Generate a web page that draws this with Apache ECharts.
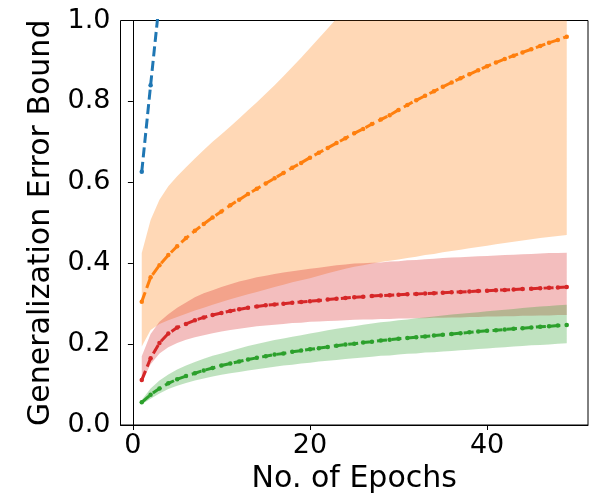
<!DOCTYPE html>
<html>
<head>
<meta charset="utf-8">
<script src="https://cdn.jsdelivr.net/npm/echarts@6/dist/echarts.min.js"></script>
<style>
  html, body { margin: 0; padding: 0; background: #fff; }
  #chart { width: 600px; height: 500px; }
</style>
</head>
<body>
<div id="chart"></div>
<script>
// epochs on the x axis
var epochs = [1, 2, 3, 4, 5, 6, 7, 8, 9, 10, 11, 12, 13, 14, 15, 16, 17, 18, 19, 20,
  21, 22, 23, 24, 25, 26, 27, 28, 29, 30, 31, 32, 33, 34, 35, 36, 37, 38, 39, 40,
  41, 42, 43, 44, 45, 46, 47, 48, 49];

var xTicks = [0, 20, 40];

// blue curve leaves the plot after a couple of epochs
var blueLine = [0.626, 0.840, 1.050, 1.250, 1.440, 1.620];

var orangeLine = [0.305, 0.365, 0.395, 0.420, 0.442, 0.462, 0.480, 0.497, 0.513, 0.528,
  0.543, 0.557, 0.571, 0.584, 0.597, 0.610, 0.623, 0.636, 0.648, 0.661,
  0.673, 0.685, 0.697, 0.709, 0.721, 0.732, 0.744, 0.755, 0.766, 0.779,
  0.791, 0.803, 0.814, 0.825, 0.836, 0.847, 0.857, 0.867, 0.877, 0.887,
  0.896, 0.905, 0.913, 0.921, 0.929, 0.937, 0.945, 0.952, 0.960];
var orangeUpper = [0.425, 0.507, 0.557, 0.590, 0.615, 0.637, 0.659, 0.680, 0.700, 0.719,
  0.738, 0.758, 0.778, 0.798, 0.819, 0.840, 0.862, 0.885, 0.908, 0.932,
  0.956, 0.980, 1.005, 1.030, 1.055, 1.080, 1.105, 1.130, 1.155, 1.180,
  1.205, 1.230, 1.255, 1.280, 1.305, 1.330, 1.355, 1.380, 1.405, 1.430,
  1.455, 1.480, 1.505, 1.530, 1.555, 1.580, 1.605, 1.630, 1.655];
var orangeLower = [0.194, 0.235, 0.250, 0.259, 0.267, 0.275, 0.283, 0.290, 0.297, 0.304,
  0.311, 0.317, 0.323, 0.329, 0.335, 0.341, 0.347, 0.353, 0.358, 0.363,
  0.369, 0.375, 0.381, 0.386, 0.391, 0.395, 0.399, 0.403, 0.406, 0.409,
  0.413, 0.416, 0.420, 0.423, 0.427, 0.430, 0.433, 0.437, 0.440, 0.443,
  0.447, 0.450, 0.453, 0.456, 0.459, 0.462, 0.465, 0.467, 0.470];

var redLine = [0.111, 0.165, 0.203, 0.226, 0.241, 0.250, 0.259, 0.266, 0.272, 0.277,
  0.282, 0.286, 0.290, 0.293, 0.296, 0.298, 0.300, 0.302, 0.304, 0.306,
  0.308, 0.310, 0.312, 0.314, 0.316, 0.317, 0.319, 0.320, 0.321, 0.322,
  0.323, 0.324, 0.325, 0.326, 0.327, 0.328, 0.329, 0.330, 0.331, 0.332,
  0.333, 0.334, 0.335, 0.336, 0.337, 0.338, 0.339, 0.340, 0.341];
var redUpper = [0.170, 0.225, 0.255, 0.274, 0.290, 0.303, 0.316, 0.326, 0.333, 0.341,
  0.348, 0.355, 0.360, 0.365, 0.369, 0.373, 0.377, 0.380, 0.383, 0.386,
  0.389, 0.392, 0.395, 0.397, 0.399, 0.400, 0.401, 0.402, 0.404, 0.405,
  0.407, 0.408, 0.410, 0.411, 0.413, 0.414, 0.415, 0.416, 0.417, 0.418,
  0.419, 0.420, 0.421, 0.422, 0.423, 0.424, 0.425, 0.425, 0.426];
var redLower = [0.105, 0.150, 0.177, 0.192, 0.203, 0.211, 0.217, 0.222, 0.227, 0.231,
  0.235, 0.238, 0.241, 0.244, 0.246, 0.248, 0.250, 0.252, 0.253, 0.255,
  0.256, 0.257, 0.258, 0.259, 0.260, 0.261, 0.261, 0.262, 0.262, 0.263,
  0.263, 0.264, 0.264, 0.265, 0.265, 0.266, 0.266, 0.267, 0.267, 0.268,
  0.268, 0.269, 0.269, 0.270, 0.270, 0.271, 0.271, 0.272, 0.272];

var greenLine = [0.056, 0.075, 0.090, 0.103, 0.113, 0.121, 0.128, 0.135, 0.141, 0.147,
  0.152, 0.157, 0.162, 0.166, 0.170, 0.174, 0.177, 0.181, 0.184, 0.187,
  0.190, 0.193, 0.196, 0.199, 0.201, 0.204, 0.206, 0.209, 0.211, 0.213,
  0.215, 0.217, 0.219, 0.221, 0.223, 0.225, 0.227, 0.229, 0.231, 0.233,
  0.234, 0.236, 0.238, 0.239, 0.241, 0.243, 0.244, 0.246, 0.247];
var greenUpper = [0.062, 0.090, 0.110, 0.125, 0.137, 0.147, 0.156, 0.164, 0.171, 0.177,
  0.183, 0.189, 0.195, 0.200, 0.205, 0.210, 0.214, 0.218, 0.222, 0.226,
  0.230, 0.234, 0.238, 0.241, 0.244, 0.248, 0.251, 0.254, 0.256, 0.259,
  0.261, 0.264, 0.266, 0.268, 0.271, 0.273, 0.275, 0.277, 0.279, 0.281,
  0.283, 0.285, 0.287, 0.289, 0.291, 0.293, 0.294, 0.296, 0.297];
var greenLower = [0.051, 0.065, 0.078, 0.089, 0.097, 0.104, 0.110, 0.115, 0.120, 0.124,
  0.128, 0.131, 0.135, 0.138, 0.141, 0.144, 0.147, 0.149, 0.152, 0.154,
  0.157, 0.159, 0.161, 0.163, 0.165, 0.167, 0.169, 0.171, 0.172, 0.174,
  0.176, 0.177, 0.179, 0.180, 0.182, 0.183, 0.185, 0.186, 0.188, 0.189,
  0.191, 0.192, 0.194, 0.195, 0.197, 0.198, 0.199, 0.201, 0.202];

var FONT = 'DejaVu Sans';

function pairs(values) {
  return values.map(function (v, i) { return [epochs[i], v]; });
}

// shaded band between lower and upper, drawn as one polygon through the axes
function band(lower, upper, fill) {
  var rows = epochs.map(function (x, i) { return [x, lower[i], upper[i]]; });
  return {
    type: 'custom',
    silent: true,
    z: 1,
    data: rows,
    encode: { x: 0, y: [1, 2] },
    renderItem: function (params, api) {
      if (params.dataIndex !== 0) return null;
      var pts = [];
      rows.forEach(function (r) { pts.push(api.coord([r[0], r[2]])); });
      for (var i = rows.length - 1; i >= 0; i--) {
        pts.push(api.coord([rows[i][0], rows[i][1]]));
      }
      var cs = params.coordSys;
      return {
        type: 'polygon',
        shape: { points: pts },
        style: { fill: fill },
        clipPath: { type: 'rect', shape: { x: cs.x, y: cs.y, width: cs.width, height: cs.height } }
      };
    }
  };
}

function dashed(values, color) {
  return {
    type: 'line',
    data: pairs(values),
    symbol: 'circle',
    symbolSize: 4.5,
    showAllSymbol: true,
    itemStyle: { color: color },
    lineStyle: { color: color, width: 3, type: [10, 4.5] },
    z: 3
  };
}

var chart = echarts.init(document.getElementById('chart'));
chart.setOption({
  animation: false,
  backgroundColor: '#fff',
  grid: {
    left: 120.5, right: 12, top: 20.5, bottom: 75,
    show: true, borderColor: '#000', borderWidth: 1,
    outerBoundsMode: 'none'
  },
  xAxis: {
    type: 'value',
    min: -1.4,
    max: 51.4,
    name: 'No. of Epochs',
    nameLocation: 'middle',
    nameGap: 39,
    nameTextStyle: { fontSize: 30, color: '#000', fontFamily: FONT },
    axisLine: { show: true, onZero: false, lineStyle: { color: '#000', width: 1 } },
    axisTick: { show: true, length: 5, customValues: xTicks, lineStyle: { color: '#000' } },
    axisLabel: {
      customValues: xTicks, fontSize: 27, color: '#000', fontFamily: FONT, margin: 7
    },
    splitLine: { show: false }
  },
  yAxis: {
    type: 'value',
    min: 0,
    max: 1,
    interval: 0.2,
    name: 'Generalization Error Bound',
    nameLocation: 'middle',
    nameGap: 59,
    nameTextStyle: { fontSize: 30, color: '#000', fontFamily: FONT },
    axisLine: { show: true, lineStyle: { color: '#000', width: 1 } },
    axisTick: { show: true, length: 5, lineStyle: { color: '#000' } },
    axisLabel: {
      fontSize: 27, color: '#000', fontFamily: FONT, margin: 10,
      formatter: function (v) { return v.toFixed(1); }
    },
    splitLine: { show: false }
  },
  series: [
    band(orangeLower, orangeUpper, 'rgba(255,127,14,0.3)'),
    band(redLower, redUpper, 'rgba(214,39,40,0.3)'),
    band(greenLower, greenUpper, 'rgba(44,160,44,0.3)'),
    dashed(blueLine, '#1f77b4'),
    dashed(orangeLine, '#ff7f0e'),
    dashed(redLine, '#d62728'),
    dashed(greenLine, '#2ca02c')
  ]
});
</script>
</body>
</html>
